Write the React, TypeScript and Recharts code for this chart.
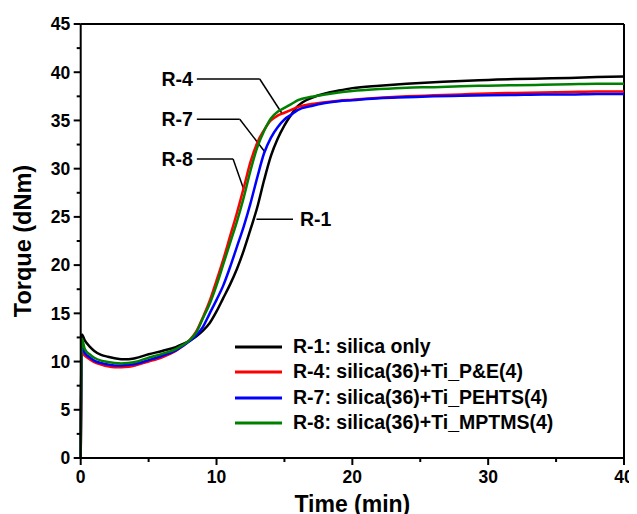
import React from 'react';
import { LineChart, Line, XAxis, YAxis, ReferenceLine, ReferenceDot, Legend } from 'recharts';

const FONT = '"Liberation Sans", Arial, Helvetica, sans-serif';

// time (min)
const times = [0, 0.08, 0.3, 0.7, 1, 1.5, 2, 2.5, 3, 3.5, 4, 5, 6, 7, 7.5, 8, 8.5, 9, 9.5, 10, 10.5, 11, 11.5, 12, 12.5, 13, 13.5, 14, 14.5, 15, 15.5, 16, 17, 18, 19, 20, 22, 24, 26, 28, 30, 32, 34, 36, 38, 40];

// torque (dNm)
const r1 = [0, 12.8, 12.2, 11.5, 11.1, 10.7, 10.5, 10.35, 10.25, 10.25, 10.35, 10.75, 11.1, 11.5, 11.8, 12.15, 12.6, 13.2, 14.0, 15.2, 16.6, 18.0, 19.6, 21.5, 23.7, 26.0, 28.8, 31.3, 33.1, 34.5, 35.6, 36.5, 37.35, 37.8, 38.1, 38.35, 38.6, 38.8, 38.95, 39.1, 39.2, 39.3, 39.35, 39.4, 39.5, 39.55];
const r4 = [0, 11.0, 10.6, 10.2, 9.95, 9.7, 9.5, 9.4, 9.4, 9.45, 9.6, 10.0, 10.45, 11.1, 11.6, 12.2, 13.1, 14.6, 16.3, 18.4, 20.6, 23.0, 25.4, 28.0, 30.7, 32.7, 34.0, 35.0, 35.5, 35.8, 36.1, 36.4, 36.7, 36.9, 37.05, 37.15, 37.35, 37.5, 37.6, 37.7, 37.8, 37.85, 37.9, 37.95, 38.0, 38.0];
const r7 = [0, 11.6, 10.9, 10.4, 10.1, 9.85, 9.7, 9.6, 9.6, 9.65, 9.75, 10.15, 10.6, 11.15, 11.6, 12.1, 12.7, 13.6, 15.0, 16.4, 17.9, 19.8, 21.9, 24.0, 26.4, 29.1, 31.6, 33.2, 34.3, 35.1, 35.6, 36.1, 36.5, 36.8, 37.0, 37.1, 37.3, 37.4, 37.5, 37.55, 37.6, 37.65, 37.7, 37.7, 37.75, 37.75];
const r8 = [0, 12.4, 11.3, 10.7, 10.4, 10.1, 9.95, 9.85, 9.8, 9.85, 9.95, 10.4, 10.8, 11.3, 11.7, 12.2, 13.0, 14.5, 16.0, 17.9, 20.1, 22.3, 24.5, 27.0, 29.8, 32.2, 33.9, 35.2, 35.9, 36.3, 36.7, 37.1, 37.45, 37.7, 37.9, 38.05, 38.25, 38.4, 38.45, 38.55, 38.6, 38.65, 38.7, 38.75, 38.8, 38.8];

const seriesKeys = ['r1', 'r4', 'r7', 'r8'];
const seriesNames = [
  'R-1: silica only',
  'R-4: silica(36)+Ti_P&E(4)',
  'R-7: silica(36)+Ti_PEHTS(4)',
  'R-8: silica(36)+Ti_MPTMS(4)',
];
const seriesColors = ['#000000', '#ff0000', '#0000ff', '#008000'];
const seriesValues = [r1, r4, r7, r8];

const xTicks = [0, 5, 10, 15, 20, 25, 30, 35, 40];
const yTicks = [0, 2.5, 5, 7.5, 10, 12.5, 15, 17.5, 20, 22.5, 25, 27.5, 30, 32.5, 35, 37.5, 40, 42.5, 45];

// callout labels with leader lines, in data coordinates
const calloutLabels = ['R-4', 'R-7', 'R-8', 'R-1'];
const calloutSides = ['left', 'left', 'left', 'right'];
const calloutPoints: number[][][] = [
  [[8.55, 39.3], [13.18, 39.3], [14.8, 35.77]],
  [[8.55, 35.12], [11.71, 35.12], [13.55, 31.76]],
  [[8.55, 31.0], [11.22, 31.0], [12.0, 27.86]],
  [[12.94, 24.75], [15.63, 24.75]],
];

const data = times.map((t, i) => {
  const row: Record<string, number> = { t };
  seriesKeys.forEach((k, j) => {
    row[k] = seriesValues[j][i];
  });
  return row;
});

const textStyle = { fontFamily: FONT, fontWeight: 'bold' as const, fill: '#000' };

const XTick = (props: any) => {
  const { x, y, payload } = props;
  const v = payload.value;
  const major = v % 10 === 0;
  return (
    <g>
      <line x1={x} x2={x} y1={y} y2={y + (major ? 7 : 4)} stroke="#000" strokeWidth={2} />
      {major && (
        <text x={x} y={y + 24.5} textAnchor="middle" fontSize={17.5} {...textStyle}>
          {v}
        </text>
      )}
    </g>
  );
};

const YTick = (props: any) => {
  const { x, y, payload } = props;
  const v = payload.value;
  const major = v % 5 === 0;
  return (
    <g>
      <line x1={x} x2={x - (major ? 7 : 4)} y1={y} y2={y} stroke="#000" strokeWidth={2} />
      {major && (
        <text x={x - 10.5} y={y} dy="0.36em" textAnchor="end" fontSize={17.5} {...textStyle}>
          {v}
        </text>
      )}
    </g>
  );
};

const LegendBox = () => (
  <div style={{ fontFamily: FONT, fontWeight: 'bold', fontSize: 19.5, color: '#000' }}>
    {seriesNames.map((n, i) => (
      <div key={n} style={{ display: 'flex', alignItems: 'center', height: 25.3 }}>
        <svg width={47} height={6} style={{ display: 'block' }}>
          <line x1={0} x2={47} y1={3} y2={3} stroke={seriesColors[i]} strokeWidth={3} />
        </svg>
        <span style={{ marginLeft: 11, lineHeight: '19.5px', whiteSpace: 'nowrap' }}>{n}</span>
      </div>
    ))}
  </div>
);

export default function App() {
  return (
    <LineChart
      width={629}
      height={506}
      data={data}
      margin={{ top: 16, right: 13, left: 12.7, bottom: 0 }}
    >
      <XAxis
        dataKey="t"
        type="number"
        domain={[0, 40]}
        ticks={xTicks}
        interval={0}
        height={56}
        tickSize={0}
        tickMargin={0}
        tickLine={false}
        axisLine={{ stroke: '#000', strokeWidth: 2 }}
        tick={(p: any) => <XTick {...p} />}
        label={{
          content: ({ viewBox }: any) => (
            <text
              x={viewBox.x + viewBox.width / 2}
              y={viewBox.y + 53.5}
              textAnchor="middle"
              fontSize={23}
              {...textStyle}
            >
              Time (min)
            </text>
          ),
        }}
      />
      <YAxis
        type="number"
        domain={[0, 45]}
        ticks={yTicks}
        interval={0}
        width={60}
        tickSize={0}
        tickMargin={0}
        tickLine={false}
        axisLine={{ stroke: '#000', strokeWidth: 2 }}
        tick={(p: any) => <YTick {...p} />}
        label={{
          content: ({ viewBox }: any) => (
            <text
              transform={`translate(${viewBox.x + 10.3}, ${viewBox.y + viewBox.height / 2}) rotate(-90)`}
              textAnchor="middle"
              fontSize={23.5}
              {...textStyle}
            >
              Torque (dNm)
            </text>
          ),
        }}
      />
      <ReferenceLine y={45} stroke="#000" strokeWidth={2} />
      <ReferenceLine x={40} stroke="#000" strokeWidth={2} />

      {calloutPoints.map((pts, ci) =>
        pts.slice(1).map((p, si) => (
          <ReferenceLine
            key={`seg-${ci}-${si}`}
            segment={[
              { x: pts[si][0], y: pts[si][1] },
              { x: p[0], y: p[1] },
            ]}
            stroke="#000"
            strokeWidth={1.5}
          />
        ))
      )}

      {seriesKeys.map((k, i) => (
        <Line
          key={k}
          dataKey={k}
          name={seriesNames[i]}
          type="monotone"
          stroke={seriesColors[i]}
          strokeWidth={2.5}
          dot={false}
          activeDot={false}
          isAnimationActive={false}
        />
      ))}

      {calloutPoints.map((pts, ci) => {
        const side = calloutSides[ci];
        const anchor = side === 'left' ? pts[0] : pts[pts.length - 1];
        return (
          <ReferenceDot
            key={`lbl-${ci}`}
            x={anchor[0]}
            y={anchor[1]}
            r={0.5}
            fill="none"
            stroke="none"
            label={{
              content: ({ viewBox }: any) => (
                <text
                  x={side === 'left' ? viewBox.x - 3.5 : viewBox.x + viewBox.width + 6.5}
                  y={viewBox.y + viewBox.height / 2}
                  dy="0.36em"
                  textAnchor={side === 'left' ? 'end' : 'start'}
                  fontSize={19.5}
                  {...textStyle}
                >
                  {calloutLabels[ci]}
                </text>
              ),
            }}
          />
        );
      })}

      <Legend
        layout="vertical"
        align="center"
        verticalAlign="middle"
        wrapperStyle={{ left: 227, top: 326.3, width: 360, height: 102 }}
        content={() => <LegendBox />}
      />
    </LineChart>
  );
}
